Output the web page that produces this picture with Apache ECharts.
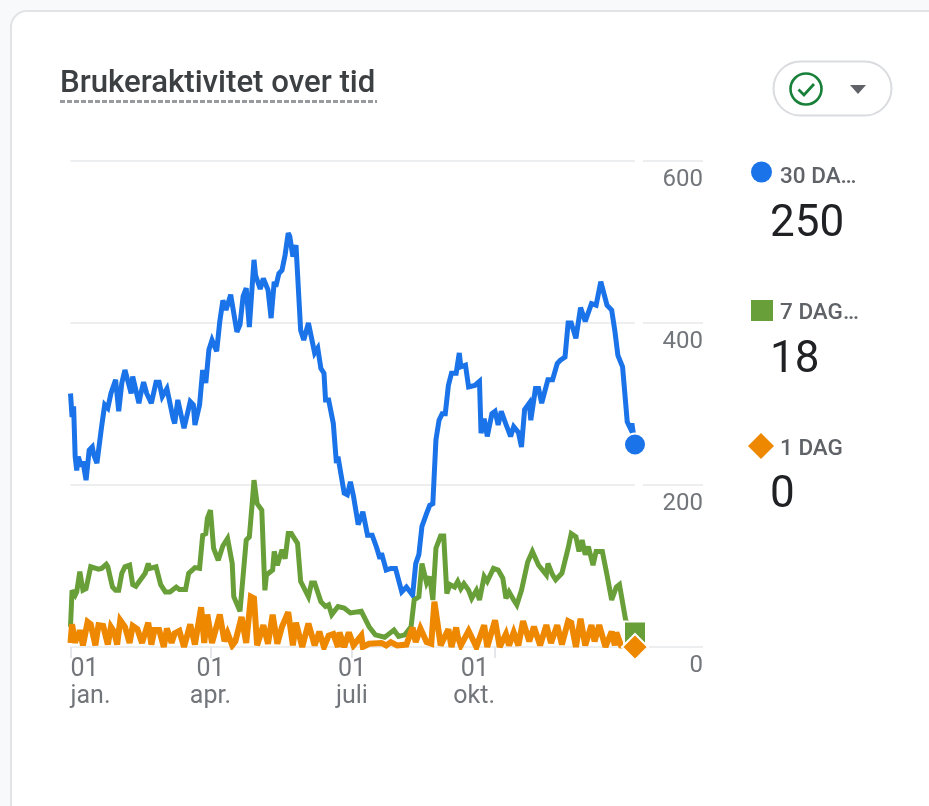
<!DOCTYPE html>
<html>
<head>
<meta charset="utf-8">
<title>Brukeraktivitet over tid</title>
<style>
html,body{margin:0;padding:0;background:#f8f9fa}
#chart{width:929px;height:806px}
</style>
<script src="https://cdn.jsdelivr.net/npm/echarts@6/dist/echarts.min.js"></script>
</head>
<body>
<div id="chart"></div>
<script>
// Day of the year (0 = 1 Jan) and active users for each rolling window.
const days30 = [0,1,2,3,4,5,7,8,10,11,12,14,15,17,18,20,22,24,26,29,31,33,35,39,40,44,45,47,49,52,55,57,59,62,66,67,69,73,77,79,80,83,85,87,89,91,94,96,98,100,103,107,109,111,113,115,118,119,122,124,127,129,131,132,134,136,138,140,141,143,145,148,150,153,154,157,159,161,163,164,166,169,171,172,176,178,180,182,185,188,191,194,197,199,200,203,206,209,213,216,220,222,224,226,229,231,233,235,237,239,241,243,245,248,250,251,254,256,260,263,264,266,268,271,273,275,277,280,283,285,288,290,292,295,296,299,301,303,304,307,310,313,315,318,320,322,325,328,331,335,338,341,345,348,350,352,355,357,358,360,361,363];
const users30 = [313,284,297,235,218,235,223,229,206,208,243,247,237,227,227,272,299,295,313,330,291,326,342,313,334,301,311,327,313,301,327,327,309,319,282,276,305,270,303,299,274,299,342,326,367,379,365,402,428,416,435,389,398,433,443,395,478,459,442,455,441,406,451,445,461,465,484,511,507,482,496,391,379,400,400,363,369,344,338,305,305,276,227,235,190,188,204,186,151,167,138,138,122,109,116,95,97,97,68,74,64,103,114,149,165,175,177,256,280,288,288,323,338,338,363,346,348,321,323,328,264,282,260,288,291,274,291,275,260,272,265,247,293,301,280,319,319,301,302,330,330,350,354,358,400,400,381,419,402,424,422,451,422,416,391,360,346,301,278,270,276,250];

const days7 = [0,1,3,4,6,8,10,13,14,18,20,23,24,27,29,31,33,35,38,40,42,45,48,50,51,55,58,61,64,68,70,74,76,80,83,85,87,88,90,92,95,98,101,104,105,109,110,113,115,117,118,120,123,125,126,130,131,133,136,138,140,142,146,148,153,155,157,161,164,166,168,172,176,180,187,192,196,202,204,208,211,215,219,221,224,226,229,231,233,235,238,240,242,244,247,249,251,253,256,258,261,263,266,268,272,275,278,280,282,285,287,290,294,297,301,306,307,310,312,316,320,322,325,327,329,331,333,336,338,342,345,348,351,353,357,363];
const users7 = [25,70,64,68,93,70,72,99,100,96,97,102,99,74,70,70,91,99,101,77,75,83,91,103,97,99,77,68,68,74,71,71,91,98,97,138,140,159,169,122,107,125,134,103,62,44,44,132,136,181,206,177,169,70,89,95,118,101,120,109,140,140,128,81,62,79,79,56,50,52,40,50,48,42,44,25,15,12,15,21,13,15,25,58,62,103,79,87,58,122,137,137,66,77,74,81,72,78,70,60,70,58,87,81,97,95,85,60,68,58,52,70,105,118,101,89,103,89,83,91,122,140,136,118,132,114,124,101,118,118,89,58,74,77,33,18];

const days1 = [0,1,3,4,5,6,8,11,13,16,18,21,24,26,28,30,32,35,38,40,43,46,50,52,54,57,60,62,65,67,70,73,77,80,84,86,88,91,96,99,101,104,106,110,113,116,118,120,124,127,130,133,136,140,143,145,149,153,157,160,163,166,169,172,173,176,179,182,187,188,192,200,203,206,210,216,220,222,225,229,232,234,235,237,238,243,245,248,249,251,256,261,266,268,273,276,280,282,285,288,291,295,298,302,306,309,313,316,320,322,325,328,331,335,337,340,344,348,350,351,354,363];
const users1 = [5,28,5,16,8,21,2,31,28,2,27,26,3,25,19,3,33,25,5,26,22,5,30,3,21,21,0,23,5,17,20,0,28,3,49,5,40,5,40,7,17,2,7,37,5,62,60,2,27,4,40,4,25,43,2,30,0,29,2,19,0,14,16,0,18,0,18,2,14,0,4,5,2,6,2,3,24,6,23,6,4,56,54,16,2,22,0,24,13,2,20,0,27,0,33,0,16,2,18,2,32,7,25,2,27,5,27,3,32,30,0,35,2,27,7,27,0,19,2,18,2,0];

// Latest values, shown as the end markers and in the legend column.
const seriesNames = ['30 DA…', '7 DAG…', '1 DAG'];
const latestValues = [250, 18, 0];
const lastDay = 363;

const monthTicks = [0, 90, 181, 273];
const monthLabels = ['01\njan.', '01\napr.', '01\njuli', '01 \nokt.'];
const valueTicks = [0, 200, 400, 600];

const BLUE = '#1a73e8', GREEN = '#689f38', ORANGE = '#ee8800';
const GRID = '#eceef0', AXIS_TEXT = '#72767b';
const zip = (xs, ys) => xs.map((x, i) => [x, ys[i]]);

const lineSeries = (name, xs, ys, color, width, z) => ({
  name, type: 'line', data: zip(xs, ys), showSymbol: false, symbol: 'none',
  lineStyle: { color, width, join: 'miter', miterLimit: 3 }, z, animation: false, silent: true
});
const endMarker = (day, value, color, symbol, size, z) => ({
  type: 'scatter', data: [[day, value]], symbol, symbolSize: size,
  itemStyle: { color, opacity: 1, borderColor: '#fff', borderWidth: 2 }, z, animation: false, silent: true
});

// Legend column: symbol, short name, current value.
const legendRows = [
  { label: 166, value: 203 },
  { label: 302, value: 339 },
  { label: 438, value: 474 }
];
const legendSymbols = [
  { type: 'circle', shape: { cx: 761.5, cy: 172, r: 10.5 }, style: { fill: BLUE } },
  { type: 'rect', shape: { x: 751, y: 300, width: 22, height: 21 }, style: { fill: GREEN } },
  { type: 'polygon', shape: { points: [[761, 433], [774, 446], [761, 459], [748, 446]] }, style: { fill: ORANGE } }
];
const legendGraphics = legendRows.flatMap((row, i) => [
  { ...legendSymbols[i], silent: true },
  { type: 'text', x: 780, y: row.label, silent: true,
    style: { text: seriesNames[i], font: '500 22.5px Roboto', fill: '#5f6368' } },
  { type: 'text', x: 770, y: row.value, silent: true,
    style: { text: String(latestValues[i]), font: '400 44px Roboto', fill: '#202124' } }
]);

const chart = echarts.init(document.getElementById('chart'), null, { renderer: 'canvas' });
chart.setOption({
  animation: false,
  backgroundColor: '#f8f9fa',
  title: {
    text: 'Brukeraktivitet over tid', left: 60, top: 69, padding: 0,
    textStyle: { fontFamily: 'Roboto', fontWeight: 500, fontSize: 31.2, color: '#3c4043' }
  },
  grid: [
    { left: 70.5, top: 161, width: 564.5, height: 486 },
    { left: 643, top: 161, width: 60, height: 486 }
  ],
  xAxis: [
    { gridIndex: 0, type: 'value', min: 0, max: 363, splitLine: { show: false },
      axisLine: { show: false },
      axisTick: { show: true, customValues: monthTicks, length: 11, lineStyle: { color: '#e4e6e9', width: 2 } },
      axisLabel: { show: true, customValues: monthTicks, alignMinLabel: 'left', alignMaxLabel: 'right',
        formatter: v => monthLabels[monthTicks.indexOf(v)],
        fontFamily: 'Roboto', fontSize: 25, lineHeight: 27, color: AXIS_TEXT, margin: 9 } },
    { gridIndex: 1, type: 'value', min: 0, max: 1, show: false }
  ],
  yAxis: [
    { gridIndex: 0, type: 'value', min: 0, max: 600, interval: 200,
      axisLabel: { show: false }, axisLine: { show: false }, axisTick: { show: false },
      splitLine: { lineStyle: { color: GRID, width: 2 } } },
    { gridIndex: 1, type: 'value', min: 0, max: 600, interval: 200, position: 'right',
      axisLine: { show: false }, axisTick: { show: false },
      axisLabel: { inside: true, margin: 0, verticalAlign: 'top', padding: [7, 0, 0, 0],
        customValues: valueTicks,
        fontFamily: 'Roboto', fontSize: 24, color: AXIS_TEXT },
      splitLine: { lineStyle: { color: GRID, width: 2 } } }
  ],
  series: [
    lineSeries('30 dager', days30, users30, BLUE, 5, 3),
    lineSeries('7 dager', days7, users7, GREEN, 5, 4),
    lineSeries('1 dag', days1, users1, ORANGE, 6, 5),
    endMarker(lastDay, latestValues[0], BLUE, 'circle', 22, 6),
    endMarker(lastDay, latestValues[1], GREEN, 'rect', 22, 6),
    endMarker(lastDay, latestValues[2], ORANGE, 'diamond', 26, 7)
  ],
  graphic: [
    // Card outline, open towards the right and bottom edges
    { type: 'rect', z: -10, silent: true, shape: { x: 11, y: 11, width: 1000, height: 1000, r: 16 },
      style: { fill: '#fff', stroke: '#e1e3e7', lineWidth: 2 } },
    // Dashed rule under the title
    { type: 'line', silent: true, shape: { x1: 60, y1: 101.5, x2: 377, y2: 101.5 },
      style: { stroke: '#979b9f', lineWidth: 3, lineDash: [5, 2] } },
    // Status pill with check mark and dropdown arrow
    { type: 'rect', silent: true, shape: { x: 773.5, y: 61.5, width: 118, height: 54, r: 27 },
      style: { fill: '#fff', stroke: '#dadce0', lineWidth: 2 } },
    { type: 'circle', silent: true, shape: { cx: 806, cy: 89, r: 15.5 },
      style: { fill: 'none', stroke: '#188038', lineWidth: 2.6 } },
    { type: 'polyline', silent: true, shape: { points: [[798.5, 89.5], [804, 95], [814, 84]] },
      style: { fill: 'none', stroke: '#188038', lineWidth: 2.8 } },
    { type: 'polygon', silent: true, shape: { points: [[850, 85], [866, 85], [858, 94]] },
      style: { fill: '#5f6368' } },
    ...legendGraphics
  ]
});
</script>
</body>
</html>
